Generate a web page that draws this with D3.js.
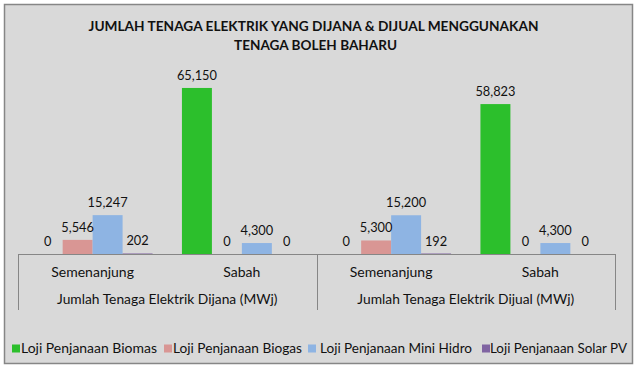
<!DOCTYPE html>
<html><head><meta charset="utf-8">
<script src="https://cdn.jsdelivr.net/npm/d3@7"></script>
<style>body{margin:0;background:#fff}svg text{font-family:Lato,"Open Sans",sans-serif}</style>
</head><body><svg id="c" width="637" height="368"></svg>
<script>
const titleLines = ["JUMLAH TENAGA ELEKTRIK YANG DIJANA & DIJUAL MENGGUNAKAN", "TENAGA BOLEH BAHARU"];
const groups = ["Jumlah Tenaga Elektrik Dijana (MWj)", "Jumlah Tenaga Elektrik Dijual (MWj)"];
const regions = ["Semenanjung", "Sabah"];
const seriesNames = ["Loji Penjanaan Biomas", "Loji Penjanaan Biogas", "Loji Penjanaan Mini Hidro", "Loji Penjanaan Solar PV"];
const seriesColors = ["#2cbf2c", "#d99694", "#8eb4e3", "#8064a2"];
// values per series, order: [Dijana-Semenanjung, Dijana-Sabah, Dijual-Semenanjung, Dijual-Sabah]
const biomas   = [0, 65150, 0, 58823];
const biogas   = [5546, 0, 5300, 0];
const miniHidro= [15247, 4300, 15200, 4300];
const solarPV  = [202, 0, 192, 0];
const seriesValues = [biomas, biogas, miniHidro, solarPV];

// layout (not data)
const titleWidths = [450, 163];
const legendLayout = {squareX:[12,164,308,482], textX:[21,173,320,490], textW:[136,129,152,137]};

const svg = d3.select("#c");
svg.append("rect").attr("x",4.5).attr("y",4.5).attr("width",628).attr("height",359)
  .attr("fill","#d9d9d9").attr("stroke","#868686").attr("stroke-width",1.5);

svg.selectAll("text.title").data(titleLines).join("text").attr("class","title")
  .attr("x",(d,i)=>i?315.5:313.5).attr("y",(d,i)=>31+i*19).attr("text-anchor","middle")
  .attr("font-weight","bold").attr("font-size",14).attr("fill","#111")
  .attr("textLength",(d,i)=>titleWidths[i]).attr("lengthAdjust","spacingAndGlyphs")
  .text(d=>d);

const x0 = d3.scaleBand().domain(groups).range([18,615]).padding(0);
const x1 = d3.scaleBand().domain(regions).range([0,x0.bandwidth()]).padding(0);
const x2 = d3.scaleBand().domain(seriesNames).range([0,x1.bandwidth()]).paddingInner(0).paddingOuter(0.49);
const y = d3.scaleLinear().domain([0,70000]).range([254,75.6]);
const fmt = d3.format(",");

const data = [];
groups.forEach((g,gi)=>regions.forEach((r,ri)=>seriesNames.forEach((s,si)=>{
  data.push({g,r,s,si,v:seriesValues[si][gi*2+ri]});
})));

const bx = d=>x0(d.g)+x1(d.r)+x2(d.s);
svg.selectAll("rect.bar").data(data).join("rect").attr("class","bar")
  .attr("x",bx).attr("width",x2.bandwidth())
  .attr("y",d=>y(d.v)).attr("height",d=>y(0)-y(d.v))
  .attr("fill",d=>seriesColors[d.si]);

svg.selectAll("text.lbl").data(data).join("text").attr("class","lbl")
  .attr("x",d=>bx(d)+x2.bandwidth()/2).attr("y",d=>y(d.v)-8)
  .attr("text-anchor","middle").attr("font-size",12.8).attr("fill","#111")
  .text(d=>fmt(d.v));

// axis
const ax = svg.append("g").attr("stroke","#868686").attr("stroke-width",1);
ax.append("line").attr("x1",18).attr("x2",615).attr("y1",254.5).attr("y2",254.5);
[x0(groups[0]), x0(groups[1]), x0(groups[1])+x0.bandwidth()].forEach(xv=>{
  ax.append("line").attr("x1",Math.round(xv)+0.5).attr("x2",Math.round(xv)+0.5).attr("y1",254).attr("y2",310);
});
groups.forEach(g=>{
  regions.forEach(r=>{
    svg.append("text").attr("x",x0(g)+x1(r)+x1.bandwidth()/2).attr("y",277)
      .attr("text-anchor","middle").attr("font-size",14).attr("fill","#111").text(r);
  });
  svg.append("text").attr("x",x0(g)+x0.bandwidth()/2).attr("y",304)
    .attr("text-anchor","middle").attr("font-size",13.8).attr("fill","#111").text(g);
});

// legend
const lg = svg.selectAll("g.leg").data(seriesNames).join("g").attr("class","leg");
lg.append("rect").attr("x",(d,i)=>legendLayout.squareX[i]).attr("y",344.5)
  .attr("width",8).attr("height",8).attr("fill",(d,i)=>seriesColors[i]);
lg.append("text").attr("x",(d,i)=>legendLayout.textX[i]).attr("y",353)
  .attr("font-size",13.8).attr("fill","#111")
  .attr("textLength",(d,i)=>legendLayout.textW[i]).attr("lengthAdjust","spacingAndGlyphs")
  .text(d=>d);
</script></body></html>
